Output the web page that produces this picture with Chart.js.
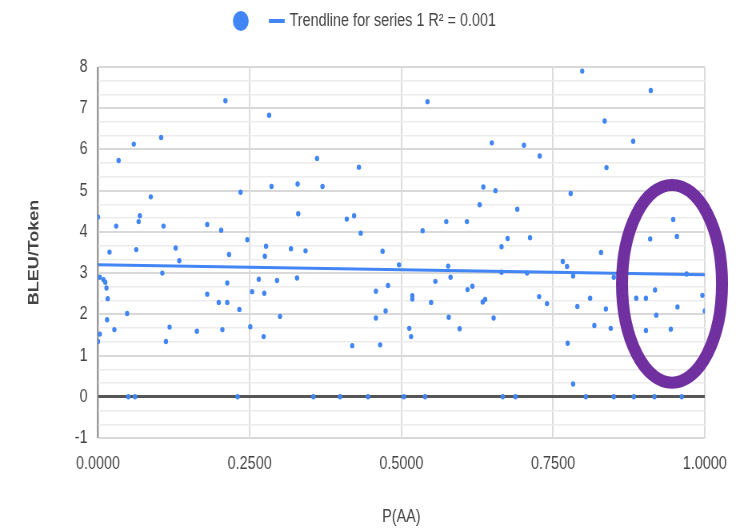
<!DOCTYPE html>
<html><head><meta charset="utf-8">
<script src="https://cdn.jsdelivr.net/npm/chart.js@4.4.0/dist/chart.umd.min.js"></script>
<style>
html,body{margin:0;padding:0;background:#fff;overflow:hidden;width:749px;height:531px}
#c{display:block;transform:scaleX(0.8);transform-origin:0 0}
</style></head><body>
<canvas id="c" width="936" height="531"></canvas>
<script>
// ---- data ----
const pAA = [
  0.000,0.210,0.059,0.104,0.034,0.087,0.069,0.067,0.030,0.108,0.180,0.203,0.019,0.063,0.128,0.134,
  0.003,0.009,0.012,0.014,0.016,0.015,0.003,0.000,0.027,0.048,0.106,0.118,0.112,0.163,0.180,0.199,
  0.213,0.213,0.205,0.216,0.050,0.061,
  0.282,0.361,0.430,0.235,0.286,0.329,0.370,0.330,0.410,0.422,0.433,0.246,0.277,0.275,0.318,0.342,
  0.469,0.265,0.295,0.328,0.254,0.274,0.233,0.300,0.251,0.273,0.419,0.465,0.458,0.458,0.474,0.478,
  0.230,0.355,0.399,0.445,
  0.543,0.649,0.702,0.728,0.635,0.655,0.629,0.691,0.574,0.608,0.535,0.675,0.712,0.665,0.496,0.577,
  0.581,0.665,0.707,0.556,0.518,0.518,0.549,0.609,0.617,0.634,0.638,0.727,0.740,0.578,0.596,0.652,
  0.513,0.516,0.504,0.539,0.667,0.688,
  0.798,0.911,0.835,0.882,0.838,0.779,0.901,0.948,0.910,0.954,0.829,0.766,0.773,0.783,0.850,0.970,
  0.790,0.811,0.837,0.818,0.845,0.887,0.903,0.918,0.920,0.903,0.955,0.944,0.996,1.000,0.774,0.783,
  0.804,0.850,0.883,0.917,0.962
];
const bleuPerToken = [
  4.36,7.18,6.13,6.29,5.73,4.85,4.39,4.25,4.14,4.14,4.18,4.04,3.51,3.57,3.61,3.30,
  2.90,2.84,2.78,2.64,2.38,1.87,1.52,1.34,1.63,2.02,3.00,1.69,1.34,1.59,2.49,2.29,
  2.29,2.76,1.63,3.45,0,0,
  6.83,5.78,5.57,4.96,5.10,5.16,5.10,4.44,4.31,4.39,3.97,3.81,3.65,3.41,3.59,3.54,
  3.53,2.85,2.82,2.88,2.55,2.51,2.12,1.95,1.70,1.46,1.24,1.26,2.56,1.91,2.08,2.70,
  0,0,0,0,
  7.16,6.16,6.10,5.84,5.09,5.00,4.66,4.55,4.25,4.25,4.03,3.84,3.86,3.64,3.20,3.17,
  2.90,3.02,3.00,2.80,2.45,2.37,2.29,2.60,2.68,2.30,2.36,2.43,2.26,1.93,1.65,1.91,
  1.66,1.46,0,0,0,0,
  7.90,7.43,6.69,6.20,5.56,4.93,4.87,4.30,3.83,3.89,3.50,3.28,3.16,2.93,2.90,2.98,
  2.19,2.39,2.13,1.73,1.66,2.39,2.39,2.59,1.98,1.61,2.18,1.64,2.46,2.08,1.30,0.31,
  0,0,0,0,0
];
const trendX = [0, 1];
const trendY = [3.20, 2.96];
const xTickValues = [0, 0.25, 0.5, 0.75, 1];
const yMin = -1, yMax = 8, yMinorPerUnit = 3;
const legendLabels = ['', 'Trendline for series 1 R\u00B2 = 0.001'];
const xTitle = 'P(AA)';
const yTitle = 'BLEU/Token';
const highlight = {x: 0.946, y: 2.74, rx: 0.0824, ry: 2.40};

// ---- styles ----
const BLUE = '#4285f4';
const TEXT = '#444444';
const FONT = "'Liberation Sans', Arial, sans-serif";
const SX = 0.8; // horizontal squeeze applied by CSS

const yTickValues = [];
for (let i = 0; i <= (yMax - yMin) * yMinorPerUnit; i++) yTickValues.push(yMin + i / yMinorPerUnit);
const isInt = v => Math.abs(v - Math.round(v)) < 1e-6;

const layoutPlugin = {
  id: 'layoutTweaks',
  afterInit(chart) {
    const lg = chart.legend;
    const f = lg.fit.bind(lg);
    lg.fit = function () { f(); this.height = 67; };
  },
  afterLayout(chart) {
    const lg = chart.legend;
    lg.left = 272;
    lg.top = -10;
  },
  afterDatasetsDraw(chart) {
    const {ctx, scales: {x, y}} = chart;
    const cx = x.getPixelForValue(highlight.x);
    const cy = y.getPixelForValue(highlight.y);
    const rx = x.getPixelForValue(highlight.x + highlight.rx) - cx;
    const ry = cy - y.getPixelForValue(highlight.y + highlight.ry);
    ctx.save();
    ctx.translate(cx, cy);
    ctx.scale(1 / SX, 1);
    ctx.strokeStyle = '#7030a0';
    ctx.lineWidth = 12;
    ctx.beginPath();
    ctx.ellipse(0, 0, rx * SX, ry, 0, 0, Math.PI * 2);
    ctx.stroke();
    ctx.restore();
  }
};

new Chart(document.getElementById('c'), {
  type: 'scatter',
  data: {
    datasets: [
      {
        label: legendLabels[0],
        data: pAA.map((v, i) => ({x: v, y: bleuPerToken[i]})),
        backgroundColor: BLUE,
        borderWidth: 0,
        pointRadius: 2.7,
        order: 2
      },
      {
        type: 'line',
        label: legendLabels[1],
        data: trendX.map((v, i) => ({x: v, y: trendY[i]})),
        borderColor: BLUE,
        borderWidth: 3,
        pointRadius: 0,
        fill: false,
        order: 1
      }
    ]
  },
  options: {
    responsive: false,
    animation: false,
    devicePixelRatio: 1,
    layout: {padding: {left: 0, right: 55, top: 0, bottom: 0}},
    plugins: {
      tooltip: {enabled: false},
      legend: {
        position: 'top',
        align: 'start',
        labels: {
          usePointStyle: true,
          boxWidth: 14,
          boxHeight: 14,
          padding: 22,
          color: TEXT,
          font: {family: FONT, size: 18},
          generateLabels: () => [
            {text: legendLabels[0], fillStyle: BLUE, strokeStyle: BLUE, lineWidth: 0, pointStyle: 'circle', hidden: false, datasetIndex: 0, fontColor: TEXT},
            {text: legendLabels[1], fillStyle: BLUE, strokeStyle: BLUE, lineWidth: 4, pointStyle: 'line', hidden: false, datasetIndex: 1, fontColor: TEXT}
          ]
        }
      }
    },
    scales: {
      x: {
        type: 'linear',
        min: 0, max: 1,
        afterBuildTicks: s => { s.ticks = xTickValues.map(v => ({value: v})); },
        afterFit: s => { s.height = 93; s.paddingLeft = 0; s.paddingRight = 0; },
        border: {display: false},
        grid: {
          drawTicks: false,
          color: c => (c.tick && c.tick.value === 0) ? '#9a9a9a' : '#dcdcdc',
          lineWidth: c => (c.tick && c.tick.value === 0) ? 2.5 : 2
        },
        ticks: {
          autoSkip: false,
          maxRotation: 0,
          padding: 15,
          color: TEXT,
          font: {family: FONT, size: 18},
          callback: v => Number(v).toFixed(4)
        },
        title: {
          display: true,
          text: xTitle,
          color: TEXT,
          font: {family: FONT, size: 18},
          padding: {top: 0, bottom: 3}
        }
      },
      y: {
        type: 'linear',
        min: yMin, max: yMax,
        afterBuildTicks: s => { s.ticks = yTickValues.map(v => ({value: v})); },
        afterFit: s => { s.width = 122.5; s.paddingTop = 0; s.paddingBottom = 0; },
        border: {display: false},
        grid: {
          drawTicks: false,
          color: c => {
            const v = c.tick ? c.tick.value : 1;
            if (Math.abs(v) < 1e-9) return '#555555';
            return isInt(v) ? '#d9d9d9' : '#ececec';
          },
          lineWidth: c => {
            const v = c.tick ? c.tick.value : 1;
            if (Math.abs(v) < 1e-9) return 3;
            return isInt(v) ? 2 : 1.5;
          }
        },
        ticks: {
          autoSkip: false,
          padding: 13,
          color: TEXT,
          font: {family: FONT, size: 18},
          callback: v => isInt(v) ? String(Math.round(v)) : ''
        },
        title: {
          display: true,
          text: yTitle,
          color: TEXT,
          font: {family: FONT, size: 18, weight: 'bold'},
          padding: {top: 32, bottom: 0}
        }
      }
    }
  },
  plugins: [layoutPlugin]
});
</script>
</body></html>
